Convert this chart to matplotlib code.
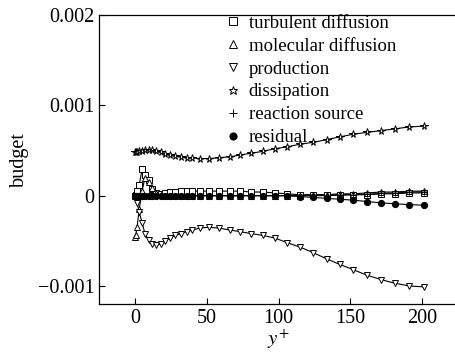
import matplotlib
matplotlib.use("Agg")
import matplotlib.pyplot as plt
import numpy as np

plt.rcParams['font.family'] = ['Liberation Serif', 'DejaVu Serif']
plt.rcParams['mathtext.fontset'] = 'stix'

yplus = [0, 0.5, 1.5, 3, 5, 7, 9.5, 12, 15, 18, 21, 24.5, 28, 32, 36, 40, 45,
         51.5, 58.5, 66, 73.5, 81, 89, 97.5, 106, 115, 124, 133.5, 142.5, 152,
         161.5, 171.5, 181, 191, 201]

# values in units of 1e-4
turb_diff = [0, 0.1, 0.5, 1.2, 2.9, 2.3, 1.7, 0.7, 0.3, 0.2, 0.3, 0.4, 0.4, 0.5,
             0.5, 0.5, 0.5, 0.5, 0.5, 0.5, 0.5, 0.4, 0.4, 0.3, 0.2, 0.1, 0.1,
             0.1, 0.1, 0.1, 0.1, 0.2, 0.2, 0.3, 0.3]
mol_diff = [-4.6, -4.4, -3.5, -1.5, 0.5, 2.0, 1.5, 0.8, 0.3, 0.1, 0.0, 0.0, 0.0,
            0.0, 0.0, 0.0, 0.0, 0.0, 0.0, 0.0, 0.0, 0.0, 0.0, 0.0, 0.0, 0.0,
            0.1, 0.1, 0.2, 0.2, 0.3, 0.4, 0.4, 0.5, 0.5]
production = [0, -0.2, -0.8, -1.8, -3.0, -4.2, -4.9, -5.3, -5.5, -5.3, -5.0,
              -4.7, -4.4, -4.2, -4.0, -3.8, -3.6, -3.5, -3.6, -3.8, -4.0, -4.2,
              -4.4, -4.7, -5.2, -5.7, -6.3, -7.0, -7.6, -8.2, -8.8, -9.3, -9.7,
              -10.0, -10.1]
dissipation = [4.8, 4.8, 4.8, 4.9, 4.9, 5.0, 5.0, 5.0, 4.9, 4.8, 4.6, 4.5, 4.4,
               4.3, 4.2, 4.2, 4.1, 4.1, 4.2, 4.3, 4.5, 4.7, 4.9, 5.2, 5.4, 5.7,
               5.9, 6.2, 6.5, 6.8, 7.0, 7.2, 7.4, 7.6, 7.7]
reaction = [0, 0, 0, 0, 0, 0, 0, 0, 0, 0, 0, 0, 0, 0, 0, 0, 0, 0, 0, 0, 0, 0, 0,
            0, 0, 0, 0, 0, 0.05, 0.1, 0.15, 0.25, 0.3, 0.4, 0.4]
residual = [0, 0, 0, 0, 0, 0, 0, 0, 0, 0, 0, 0, 0, 0, 0, 0, 0, 0, 0, 0, 0, 0, 0,
            0, 0, -0.1, -0.2, -0.3, -0.4, -0.5, -0.65, -0.8, -0.9, -1.0, -1.05]

labels = ['turbulent diffusion', 'molecular diffusion', 'production',
          'dissipation', 'reaction source', 'residual']
yticks = [-0.001, 0, 0.001, 0.002]
ytick_labels = ['\u22120.001', '0', '0.001', '0.002']
xticks = [0, 50, 100, 150, 200]

scale = 1e-4
series = [turb_diff, mol_diff, production, dissipation, reaction, residual]
markers = ['s', '^', 'v', '*', '+', 'o']
msizes = [4.5, 5, 5, 5.5, 5, 4.5]
fills = ['white', 'white', 'white', 'white', 'none', 'black']

fig = plt.figure(figsize=(4.55, 3.54), dpi=100)
ax = fig.add_axes([0.2176, 0.1412, 0.789, 0.8164])

x = np.array(yplus)
for s, m, ms, fc, lab in zip(series, markers, msizes, fills, labels):
    y = np.array(s) * scale
    ax.plot(x, y, color='black', lw=0.8, zorder=2)
    ax.plot(x, y, linestyle='none', marker=m, ms=ms, mfc=fc, mec='black',
            mew=0.7, zorder=3, label=lab)

ax.set_xlim(-25, 225)
ax.set_ylim(-0.0012, 0.002)
ax.set_xticks(xticks)
ax.set_xticklabels([str(t) for t in xticks])
ax.set_yticks(yticks)
ax.set_yticklabels(ytick_labels)
ax.tick_params(direction='in', length=4, labelsize=14.5, width=0.8,
               top=False, right=False)
ax.spines['right'].set_visible(False)
for sp in ['left', 'bottom', 'top']:
    ax.spines[sp].set_linewidth(0.9)

ax.set_xlabel('$y^{+}$', fontsize=15, labelpad=0)
ax.set_ylabel('budget', fontsize=14.5, labelpad=6)

leg = ax.legend(loc='upper left', bbox_to_anchor=(0.466, 0.996),
                bbox_transform=fig.transFigure, frameon=False, fontsize=13.5,
                handlelength=0.8, handletextpad=0.45, labelspacing=0.31,
                borderpad=0.2, markerscale=1.15)

fig.savefig('out.png', dpi=100)
